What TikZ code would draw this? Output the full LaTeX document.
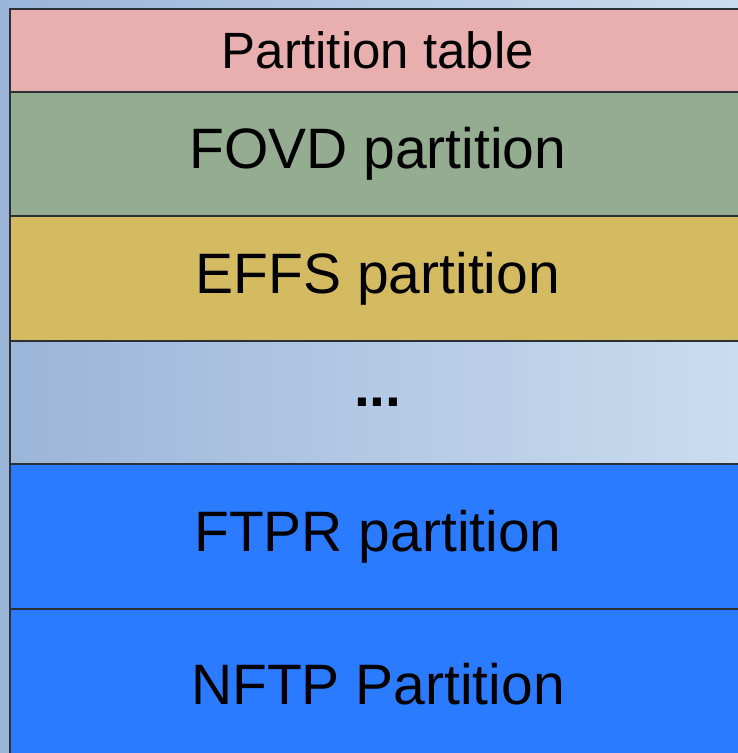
\documentclass[tikz,border=0pt]{standalone}
\usepackage{fontspec}
\setmainfont{Liberation Sans}
\usetikzlibrary{positioning}
\definecolor{BackLeft}{HTML}{9BB5D8}
\definecolor{BackRight}{HTML}{CADCEF}
\definecolor{Edge}{HTML}{2B2F36}
\definecolor{Rose}{HTML}{E9AFAE}
\definecolor{Sage}{HTML}{94AC8F}
\definecolor{Mustard}{HTML}{D4BB62}
\definecolor{Azure}{HTML}{2A7BFF}

\begin{document}
\begin{tikzpicture}[x=1pt,y=-1pt,
  slab/.style={draw=Edge,line width=1.8pt,anchor=north west,minimum width=736pt,
    inner sep=0pt,font=\fontsize{57}{68}\selectfont}]
  \path[use as bounding box,clip] (0,0) rectangle (738,753);
  \fill[left color=BackLeft,right color=BackRight] (0,0) rectangle (738,753);
  % the stack of partitions
  \node[slab,fill=Rose,minimum height=83pt,font=\fontsize{51}{60}\selectfont] (ptable) at (9,8) {Partition table};
  \node[slab,fill=Sage,minimum height=124pt] (fovd) at (9,91) {FOVD partition};
  \node[slab,fill=Mustard,minimum height=125pt] (effs) at (9,215) {EFFS partition};
  \node[slab,minimum height=123pt,font=\bfseries\fontsize{57}{68}\selectfont] (gap) at (9,340) {...};
  \node[slab,fill=Azure,minimum height=145pt] (ftpr) at (9,463) {FTPR partition};
  \node[slab,fill=Azure,minimum height=150pt] (nftp) at (9,608) {NFTP Partition};
\end{tikzpicture}
\end{document}
